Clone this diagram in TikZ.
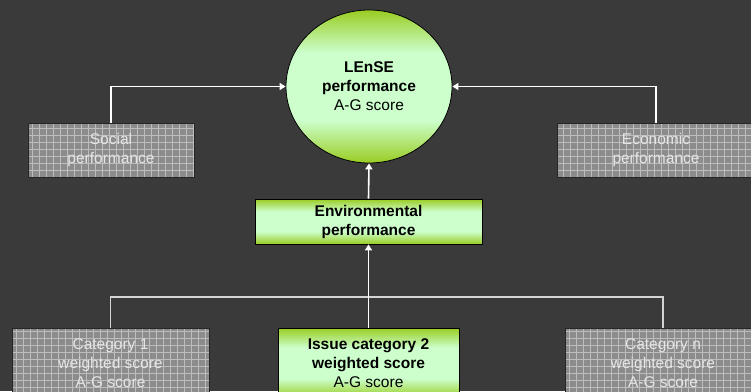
\documentclass[tikz,border=0pt]{standalone}
\usepackage{fontspec}
\setmainfont{Liberation Sans}
\usetikzlibrary{shapes.geometric,arrows.meta}
\definecolor{bg}{HTML}{3A3A3A}
\definecolor{gdark}{HTML}{99CC22}
\definecolor{glight}{HTML}{CCFFCC}
\definecolor{boxgray}{HTML}{8C8C8C}
\definecolor{gridline}{HTML}{BDBDBD}
\definecolor{busline}{HTML}{D4D4D4}
\pgfdeclareverticalshading{greenv}{100bp}{color(0bp)=(gdark); color(25bp)=(gdark); color(39bp)=(glight); color(61bp)=(glight); color(75bp)=(gdark); color(100bp)=(gdark)}
\tikzset{
  txt/.style={font=\fontsize{15.5}{19}\selectfont, align=center, inner sep=0pt},
  greenshade/.style={txt, shading=greenv, draw=black, line width=0.8pt, text=black},
  graybox/.style={txt, fill=boxgray, draw=black!85, line width=0.8pt, text=white!90!black,
    path picture={\draw[gridline, line width=0.5pt, step=7pt] (path picture bounding box.south west) grid (path picture bounding box.north east);}},
  conn/.style={draw=white, line width=1.6pt},
  busconn/.style={draw=busline, line width=1.6pt},
  arr/.style={conn, -{Triangle[width=7pt,length=6pt]}},
}
\begin{document}
\begin{tikzpicture}[x=1pt,y=-1pt]
\useasboundingbox (0,0) rectangle (751,391);
\fill[bg] (0,0) rectangle (751,391);
\clip (0,0) rectangle (751,391);

\node[greenshade, ellipse, minimum width=166pt, minimum height=153pt] (lense) at (369,86.5)
  {\textbf{LEnSE}\\\textbf{performance}\\A-G score};

\node[graybox, rectangle, minimum width=166pt, minimum height=54pt] (social) at (111,150)
  {Social\\performance};
\node[graybox, rectangle, minimum width=198pt, minimum height=54pt] (econ) at (656,150)
  {Economic\\performance};

\node[greenshade, rectangle, minimum width=227pt, minimum height=45pt] (env) at (368.5,221.5)
  {\textbf{Environmental}\\\textbf{performance}};

\node[graybox, rectangle, minimum width=197pt, minimum height=70pt] (cat1) at (110.5,363)
  {Category 1\\weighted score\\A-G score};
\node[greenshade, rectangle, minimum width=181pt, minimum height=70pt] (cat2) at (368.5,363)
  {\textbf{Issue category 2}\\\textbf{weighted score}\\A-G score};
\node[graybox, rectangle, minimum width=196pt, minimum height=70pt] (catn) at (663,363)
  {Category n\\weighted score\\A-G score};

\coordinate (bus) at (368.5,297);

\draw[arr] (social.north) |- (lense.west);
\draw[arr] (econ.north) |- (lense.east);
\draw[arr] (env.north) -- (lense.south);
\draw[busconn] (cat1.north) |- (bus) -| (catn.north);
\draw[conn] (cat2.north) -- (bus);
\draw[arr] (bus) -- (env.south);
\end{tikzpicture}
\end{document}
